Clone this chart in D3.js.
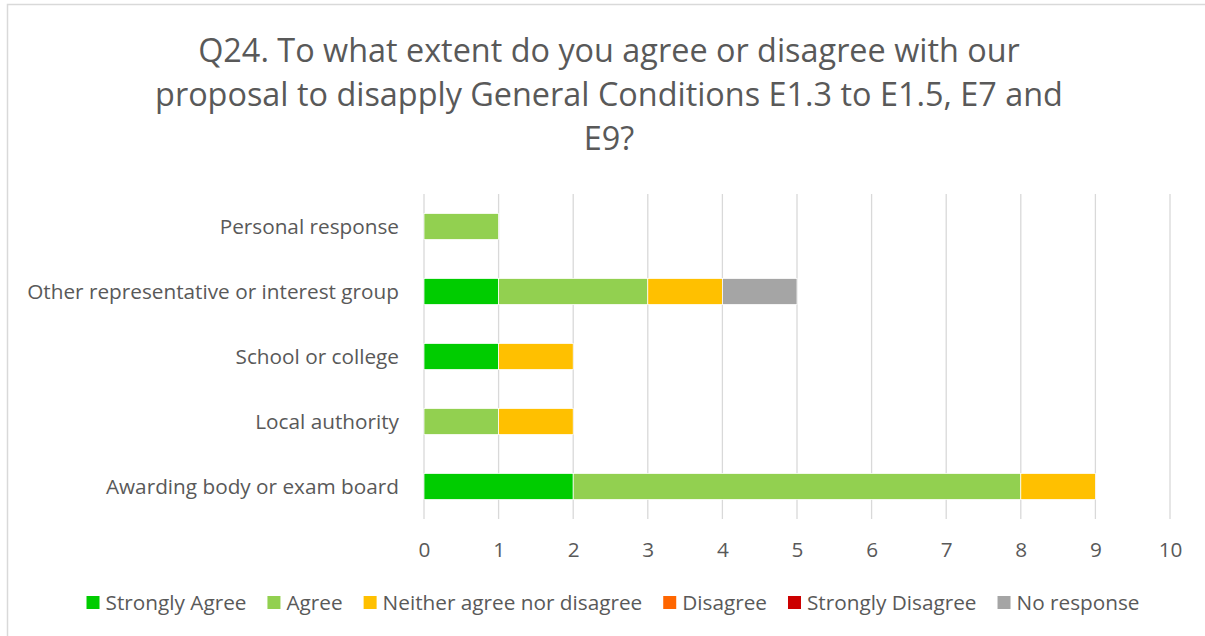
<!DOCTYPE html>
<html>
<head>
<meta charset="utf-8">
<script src="https://cdn.jsdelivr.net/npm/d3@7"></script>
<style>
  html, body { margin: 0; padding: 0; background: #fff; }
  svg { display: block; }
  text { font-family: "Open Sans", Lato, sans-serif; fill: #595959; }
</style>
</head>
<body>
<svg id="chart" width="1205" height="636"></svg>
<script>
// Respondent groups, top to bottom
const categories = [
  "Personal response",
  "Other representative or interest group",
  "School or college",
  "Local authority",
  "Awarding body or exam board"
];

// Response options (stack order, left to right)
const seriesNames = [
  "Strongly Agree", "Agree", "Neither agree nor disagree",
  "Disagree", "Strongly Disagree", "No response"
];
const seriesColors = ["#00cc00", "#92d050", "#ffc000", "#ff6600", "#cc0000", "#a5a5a5"];

// Counts per group, in the same order as categories
const stronglyAgree    = [0, 1, 1, 0, 2];
const agree            = [1, 2, 0, 1, 6];
const neither          = [0, 1, 1, 1, 1];
const disagree         = [0, 0, 0, 0, 0];
const stronglyDisagree = [0, 0, 0, 0, 0];
const noResponse       = [0, 1, 0, 0, 0];

const xTicks = [0, 1, 2, 3, 4, 5, 6, 7, 8, 9, 10];

const titleLines = [
  "Q24. To what extent do you agree or disagree with our",
  "proposal to disapply General Conditions E1.3 to E1.5, E7 and",
  "E9?"
];

const seriesValues = [stronglyAgree, agree, neither, disagree, stronglyDisagree, noResponse];
const rows = categories.map((c, i) => {
  const r = { category: c };
  seriesNames.forEach((s, j) => { r[s] = seriesValues[j][i]; });
  return r;
});

const svg = d3.select("#chart");
const W = 1205, H = 636;

// Scale a group of texts so that a reference string spans the given width
function fitFont(sel, refNode, width, base) {
  sel.style("font-size", base + "px");
  const w = refNode.getComputedTextLength();
  const size = base * width / w;
  sel.style("font-size", size.toFixed(2) + "px");
  return size;
}

// chart frame
svg.append("rect")
  .attr("x", 7.5).attr("y", 4.5)
  .attr("width", W + 10).attr("height", H + 10)
  .attr("fill", "#fff").attr("stroke", "#d9d9d9").attr("stroke-width", 1.5);

// title
const title = svg.append("g").selectAll("text")
  .data(titleLines)
  .join("text")
  .attr("x", 609)
  .attr("y", (d, i) => 62 + i * 44)
  .attr("text-anchor", "middle")
  .text(d => d);
fitFont(title, title.nodes()[1], 908, 28);

const plot = { left: 424, right: 1170, top: 194, bottom: 519 };

const x = d3.scaleLinear().domain([0, 10]).range([plot.left, plot.right]);
const y = d3.scaleBand().domain(categories).range([plot.top, plot.bottom]).paddingInner(0.6).paddingOuter(0.3);

// vertical gridlines
svg.append("g").selectAll("line")
  .data(xTicks)
  .join("line")
  .attr("x1", d => x(d)).attr("x2", d => x(d))
  .attr("y1", plot.top).attr("y2", plot.bottom)
  .attr("stroke", "#d9d9d9").attr("stroke-width", 1.3);

// category labels
const yAxis = d3.axisLeft(y).tickSize(0).tickPadding(0);
const gy = svg.append("g").attr("transform", `translate(${plot.left - 25},0)`).call(yAxis);
gy.select(".domain").remove();
const catText = gy.selectAll("text").attr("dy", "0.35em").attr("fill", "#595959");
const labelSize = fitFont(catText, catText.nodes()[1], 372, 19);

// x tick labels
const xAxis = d3.axisBottom(x).tickValues(xTicks).tickSize(0).tickPadding(0);
const gx = svg.append("g").attr("transform", `translate(0,${plot.bottom})`).call(xAxis);
gx.select(".domain").remove();
gx.selectAll("text")
  .attr("dy", null).attr("y", 38)
  .style("font-size", labelSize.toFixed(2) + "px")
  .attr("fill", "#595959");

// stacked bars
const stack = d3.stack().keys(seriesNames)(rows);
svg.append("g").selectAll("g")
  .data(stack)
  .join("g")
  .attr("fill", (d, i) => seriesColors[i])
  .selectAll("rect")
  .data(d => d.filter(p => p[1] - p[0] > 0))
  .join("rect")
  .attr("x", d => x(d[0]))
  .attr("width", d => x(d[1]) - x(d[0]))
  .attr("y", d => y(d.data.category))
  .attr("height", y.bandwidth())
  .attr("stroke", "#ffffff").attr("stroke-width", 0.75);

// legend
const legend = svg.append("g");
const items = legend.selectAll("g")
  .data(seriesNames)
  .join("g");
items.append("rect")
  .attr("width", 13).attr("height", 13)
  .attr("y", -7)
  .attr("fill", (d, i) => seriesColors[i]);
items.append("text")
  .attr("x", 19).attr("dy", "0.35em")
  .style("font-size", labelSize.toFixed(2) + "px")
  .text(d => d);
const gap = 21;
let cx = 0;
const positions = [];
items.each(function () {
  positions.push(cx);
  const w = d3.select(this).select("text").node().getComputedTextLength();
  cx += 19 + w + gap;
});
const total = cx - gap;
const startX = 613 - total / 2;
items.attr("transform", (d, i) => `translate(${startX + positions[i]},603)`);
</script>
</body>
</html>
